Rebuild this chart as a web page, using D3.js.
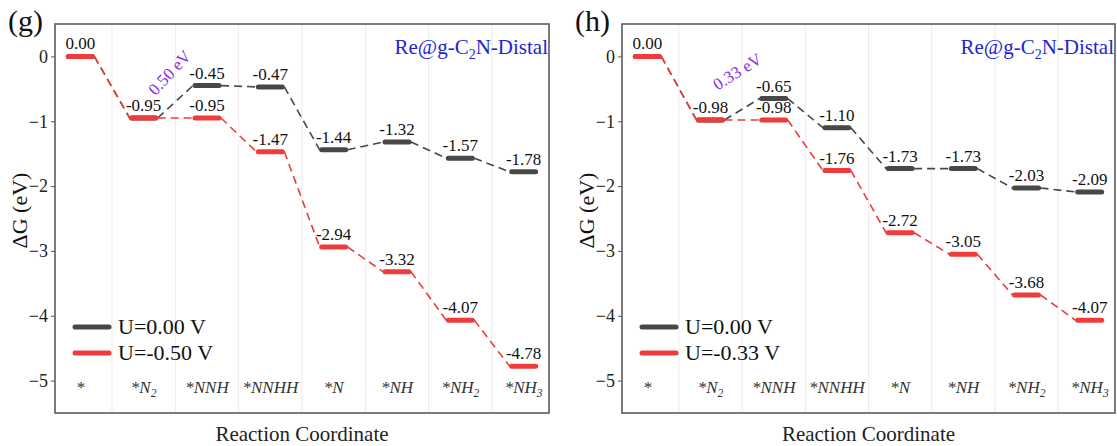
<!DOCTYPE html>
<html>
<head>
<meta charset="utf-8">
<script src="https://cdn.jsdelivr.net/npm/d3@7/dist/d3.min.js"></script>
<style>
  html, body { margin: 0; padding: 0; background: #fff; }
  svg { display: block; }
</style>
</head>
<body>
<svg id="chart" width="1117" height="446"></svg>
<script>
// Reaction steps of the distal NRR pathway ("_n" marks a subscript)
const steps = ["*", "*N_2", "*NNH", "*NNHH", "*N", "*NH", "*NH_2", "*NH_3"];

// Panel (g): free energies (eV)
const gZero = [0.00, -0.95, -0.45, -0.47, -1.44, -1.32, -1.57, -1.78];
const gBias = [0.00, -0.95, -0.95, -1.47, -2.94, -3.32, -4.07, -4.78];
const gLegend = ["U=0.00 V", "U=-0.50 V"];
const gBarrier = "0.50 eV";

// Panel (h): free energies (eV)
const hZero = [0.00, -0.98, -0.65, -1.10, -1.73, -1.73, -2.03, -2.09];
const hBias = [0.00, -0.98, -0.98, -1.76, -2.72, -3.05, -3.68, -4.07];
const hLegend = ["U=0.00 V", "U=-0.33 V"];
const hBarrier = "0.33 eV";

const yTicks = [0, -1, -2, -3, -4, -5];
const yDomain = [-5.5, 0.5];
const systemName = ["Re@g-C", "2", "N-Distal"];

const FONT = "'Liberation Serif', 'Times New Roman', Times, serif";
const GRAY = "#474747";
const RED = "#ef3b3b";
const PURPLE = "#8a2be2";
const BLUE = "#2424d6";

const svg = d3.select("#chart").attr("font-family", FONT);

const panels = [
  { tag: "(g)", left: 55, right: 549, zero: gZero, bias: gBias, legend: gLegend,
    barrier: gBarrier, bx: 1.43, by: -0.27, angle: -47 },
  { tag: "(h)", left: 622, right: 1115, zero: hZero, bias: hBias, legend: hLegend,
    barrier: hBarrier, bx: 1.44, by: -0.26, angle: -32 }
];
const plotTop = 24, plotBottom = 413;
const halfBar = 12;

function addSubscripted(sel, label, size) {
  const parts = label.split(/_(\d)/);
  parts.forEach((p, i) => {
    if (!p) return;
    if (i % 2 === 1) {
      sel.append("tspan").attr("font-size", size * 0.68).attr("dy", size * 0.25).text(p);
    } else {
      const t = sel.append("tspan").text(p);
      if (i > 0) t.attr("dy", -size * 0.25);
    }
  });
}

function txt(parent) {
  return parent.append("text").attr("font-family", FONT);
}

panels.forEach(p => {
  const g = svg.append("g");
  const x = d3.scaleLinear().domain([-0.4, steps.length - 0.6]).range([p.left, p.right]);
  const y = d3.scaleLinear().domain(yDomain).range([plotBottom, plotTop]);

  // vertical separators between steps
  g.selectAll("line.sep").data(d3.range(steps.length - 1)).join("line")
    .attr("x1", d => x(d + 0.5)).attr("x2", d => x(d + 0.5))
    .attr("y1", plotTop).attr("y2", plotBottom)
    .attr("stroke", "#ebebeb").attr("stroke-width", 1);

  // y axis
  const ax = g.append("g").attr("transform", `translate(${p.left},0)`)
    .call(d3.axisLeft(y).tickValues(yTicks).tickSize(4).tickPadding(3).tickFormat(d3.format("d")));
  ax.attr("font-family", FONT).attr("font-size", 18);
  ax.select(".domain").remove();
  ax.selectAll(".tick line").attr("stroke", "#555");
  ax.selectAll(".tick text").attr("fill", "#222");

  // frame
  g.append("rect").attr("x", p.left).attr("y", plotTop)
    .attr("width", p.right - p.left).attr("height", plotBottom - plotTop)
    .attr("fill", "none").attr("stroke", "#5a5a5a").attr("stroke-width", 1.6);

  // energy profile: dashed connectors and level bars
  function profile(vals, color) {
    const links = d3.range(vals.length - 1);
    g.selectAll(null).data(links).join("line")
      .attr("x1", i => x(i) + halfBar + 2).attr("y1", i => y(vals[i]))
      .attr("x2", i => x(i + 1) - halfBar - 2).attr("y2", i => y(vals[i + 1]))
      .attr("stroke", color).attr("stroke-width", 1.6).attr("stroke-dasharray", "8,5");
    g.selectAll(null).data(vals).join("line")
      .attr("x1", (v, i) => x(i) - halfBar).attr("x2", (v, i) => x(i) + halfBar)
      .attr("y1", v => y(v)).attr("y2", v => y(v))
      .attr("stroke", color).attr("stroke-width", 5).attr("stroke-linecap", "round");
  }
  profile(p.zero, GRAY);
  profile(p.bias, RED);

  // value labels
  const labelAt = (v, i) => txt(g)
    .attr("x", x(i)).attr("y", y(v) - 7).attr("text-anchor", "middle")
    .attr("font-size", 17).attr("fill", "#111").text(v.toFixed(2));
  p.zero.forEach((v, i) => { if (v !== p.bias[i]) labelAt(v, i); });
  p.bias.forEach((v, i) => labelAt(v, i));

  // step names
  steps.forEach((s, i) => {
    const t = txt(g).attr("x", x(i)).attr("y", 393)
      .attr("text-anchor", "middle").attr("font-size", 17)
      .attr("font-style", "italic").attr("fill", "#333");
    addSubscripted(t, s, 17);
  });

  // barrier annotation
  txt(g)
    .attr("transform", `translate(${x(p.bx)},${y(p.by)}) rotate(${p.angle})`)
    .attr("text-anchor", "middle").attr("dominant-baseline", "middle")
    .attr("font-size", 17).attr("fill", PURPLE).text(p.barrier);

  // system name
  const sn = txt(g).attr("x", p.right - 1).attr("y", 54)
    .attr("text-anchor", "end").attr("font-size", 21).attr("fill", BLUE);
  sn.append("tspan").text(systemName[0]);
  sn.append("tspan").attr("font-size", 14).attr("dy", 5).text(systemName[1]);
  sn.append("tspan").attr("dy", -5).text(systemName[2]);

  // legend
  const lg = g.append("g").attr("transform", `translate(${p.left + 20},0)`);
  [GRAY, RED].forEach((c, k) => {
    const ly = 327 + k * 26;
    lg.append("line").attr("x1", 0).attr("x2", 34).attr("y1", ly).attr("y2", ly)
      .attr("stroke", c).attr("stroke-width", 5).attr("stroke-linecap", "round");
    txt(lg).attr("x", 43).attr("y", ly + 7).attr("font-size", 22)
      .attr("fill", "#111").text(p.legend[k]);
  });

  // panel tag and axis titles
  txt(svg).attr("x", p.left - 47).attr("y", 31).attr("font-size", 30)
    .attr("fill", "#111").text(p.tag);
  txt(svg).attr("transform", `translate(${p.left - 28},${(plotTop + plotBottom) / 2 - 8}) rotate(-90)`)
    .attr("text-anchor", "middle").attr("font-size", 22).attr("fill", "#111").text("ΔG (eV)");
  txt(svg).attr("x", (p.left + p.right) / 2).attr("y", 441)
    .attr("text-anchor", "middle").attr("font-size", 21).attr("fill", "#222")
    .text("Reaction Coordinate");
});
</script>
</body>
</html>
